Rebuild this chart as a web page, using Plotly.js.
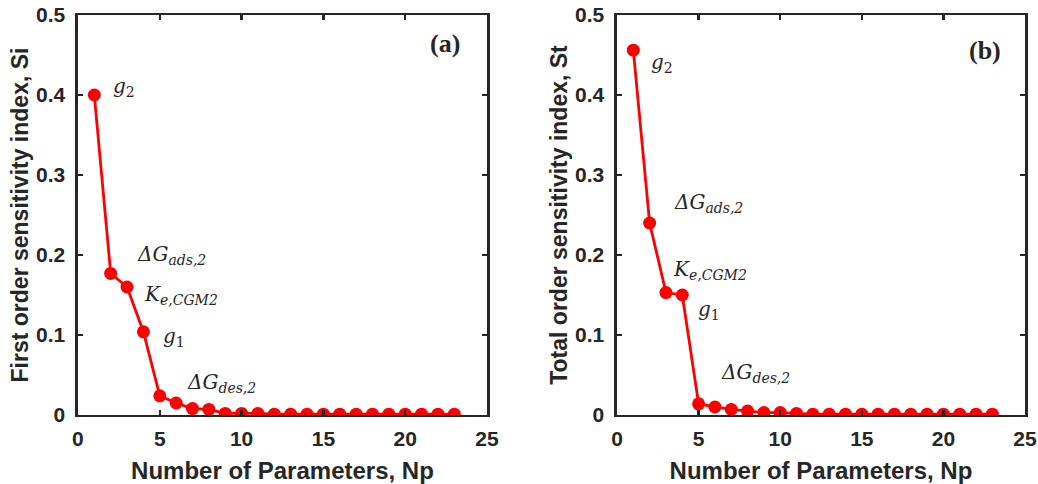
<!DOCTYPE html>
<html>
<head>
<meta charset="utf-8">
<script src="https://cdn.plot.ly/plotly-3.0.1.min.js"></script>
<style>html,body{margin:0;padding:0;background:#fff;} #chart{width:1038px;height:484px;}</style>
</head>
<body>
<div id="chart"></div>
<script>
// Parameter index (x values)
const np = [1,2,3,4,5,6,7,8,9,10,11,12,13,14,15,16,17,18,19,20,21,22,23];
// First order sensitivity index Si (panel a)
const si = [0.400,0.177,0.160,0.104,0.024,0.015,0.008,0.007,0.002,0.002,0.002,0.001,0.001,0.001,0.001,0.001,0.001,0.001,0.001,0.001,0.001,0.001,0.001];
// Total order sensitivity index St (panel b)
const st = [0.456,0.240,0.153,0.150,0.014,0.010,0.007,0.005,0.003,0.003,0.002,0.001,0.001,0.001,0.001,0.001,0.001,0.001,0.001,0.001,0.001,0.001,0.001];
// Parameter labels and their positions (data coords)
const labelsA = ['<i>g</i><sub>2</sub>','<i>ΔG</i><sub><i>ads,2</i></sub>','<i>K</i><sub><i>e,CGM2</i></sub>','<i>g</i><sub>1</sub>','<i>ΔG</i><sub><i>des,2</i></sub>'];
const labelAx = [2.0, 3.48, 3.9, 5.05, 6.54];
const labelAy = [0.41, 0.20, 0.15, 0.098, 0.040];
const labelBx = [1.96, 3.35, 3.29, 4.84, 6.27];
const labelBy = [0.44, 0.265, 0.181, 0.131, 0.052];
const panelTags = ['(a)','(b)'];

const red = '#ff0000';
const ink = '#262626';
function trace(y, xa, ya){
  return {x: np, y: y, xaxis: xa, yaxis: ya, type: 'scatter', mode: 'lines+markers',
    line: {color: red, width: 2.8}, marker: {color: red, size: 13}, showlegend: false, hoverinfo: 'skip'};
}
const tickFont = {family: 'Liberation Sans, Arial, sans-serif', size: 21, color: ink, weight: 'bold'};
function xax(dom){
  return {domain: dom, range: [0,25], dtick: 5, tick0: 0, showline: true, mirror: 'ticks', linecolor: ink, linewidth: 2.5,
    ticks: 'inside', ticklen: 5, tickwidth: 2.5, tickcolor: ink, showgrid: false, zeroline: false, tickfont: tickFont,
    ticklabelstandoff: 3,
    title: {text: 'Number of Parameters, Np', font: {family: 'Liberation Sans, Arial, sans-serif', size: 24, color: ink, weight: 'bold'}, standoff: 14}};
}
function yax(title){
  return {domain: [0.1426, 0.969], range: [0,0.5], dtick: 0.1, tick0: 0, showline: true, mirror: 'ticks', linecolor: ink, linewidth: 2.5,
    ticks: 'inside', ticklen: 5, tickwidth: 2.5, tickcolor: ink, showgrid: false, zeroline: false, tickfont: tickFont,
    ticklabelstandoff: 6,
    title: {text: title, font: {family: 'Liberation Sans, Arial, sans-serif', size: 23, color: ink, weight: 'bold'}, standoff: 1}};
}
const annFont = {family: 'DejaVu Serif, serif', size: 20, color: ink};
const anns = [];
labelsA.forEach((t,i)=>{
  anns.push({text: t, x: labelAx[i], y: labelAy[i], xref: 'x', yref: 'y', xanchor: 'left', yanchor: 'middle', showarrow: false, font: annFont});
  anns.push({text: t, x: labelBx[i], y: labelBy[i], xref: 'x2', yref: 'y2', xanchor: 'left', yanchor: 'middle', showarrow: false, font: annFont});
});
const tagFont = {family: 'Liberation Serif, Times New Roman, serif', size: 26, color: ink, weight: 'bold'};
anns.push({text: '<b>'+panelTags[0]+'</b>', x: 23.5, y: 0.465, xref: 'x', yref: 'y', xanchor: 'right', yanchor: 'middle', showarrow: false, font: tagFont});
anns.push({text: '<b>'+panelTags[1]+'</b>', x: 23.65, y: 0.456, xref: 'x2', yref: 'y2', xanchor: 'right', yanchor: 'middle', showarrow: false, font: tagFont});

const layout = {
  width: 1038, height: 484, margin: {l: 0, r: 0, t: 0, b: 0},
  paper_bgcolor: '#fff', plot_bgcolor: '#fff',
  xaxis: Object.assign(xax([0.0751, 0.4692]), {anchor: 'y'}),
  yaxis: Object.assign(yax('First order sensitivity index, Si'), {anchor: 'x'}),
  xaxis2: Object.assign(xax([0.5944, 0.9875]), {anchor: 'y2'}),
  yaxis2: Object.assign(yax('Total order sensitivity index, St'), {anchor: 'x2'}),
  annotations: anns
};
Plotly.newPlot('chart', [trace(si,'x','y'), trace(st,'x2','y2')], layout, {displayModeBar: false, staticPlot: true});
</script>
</body>
</html>
